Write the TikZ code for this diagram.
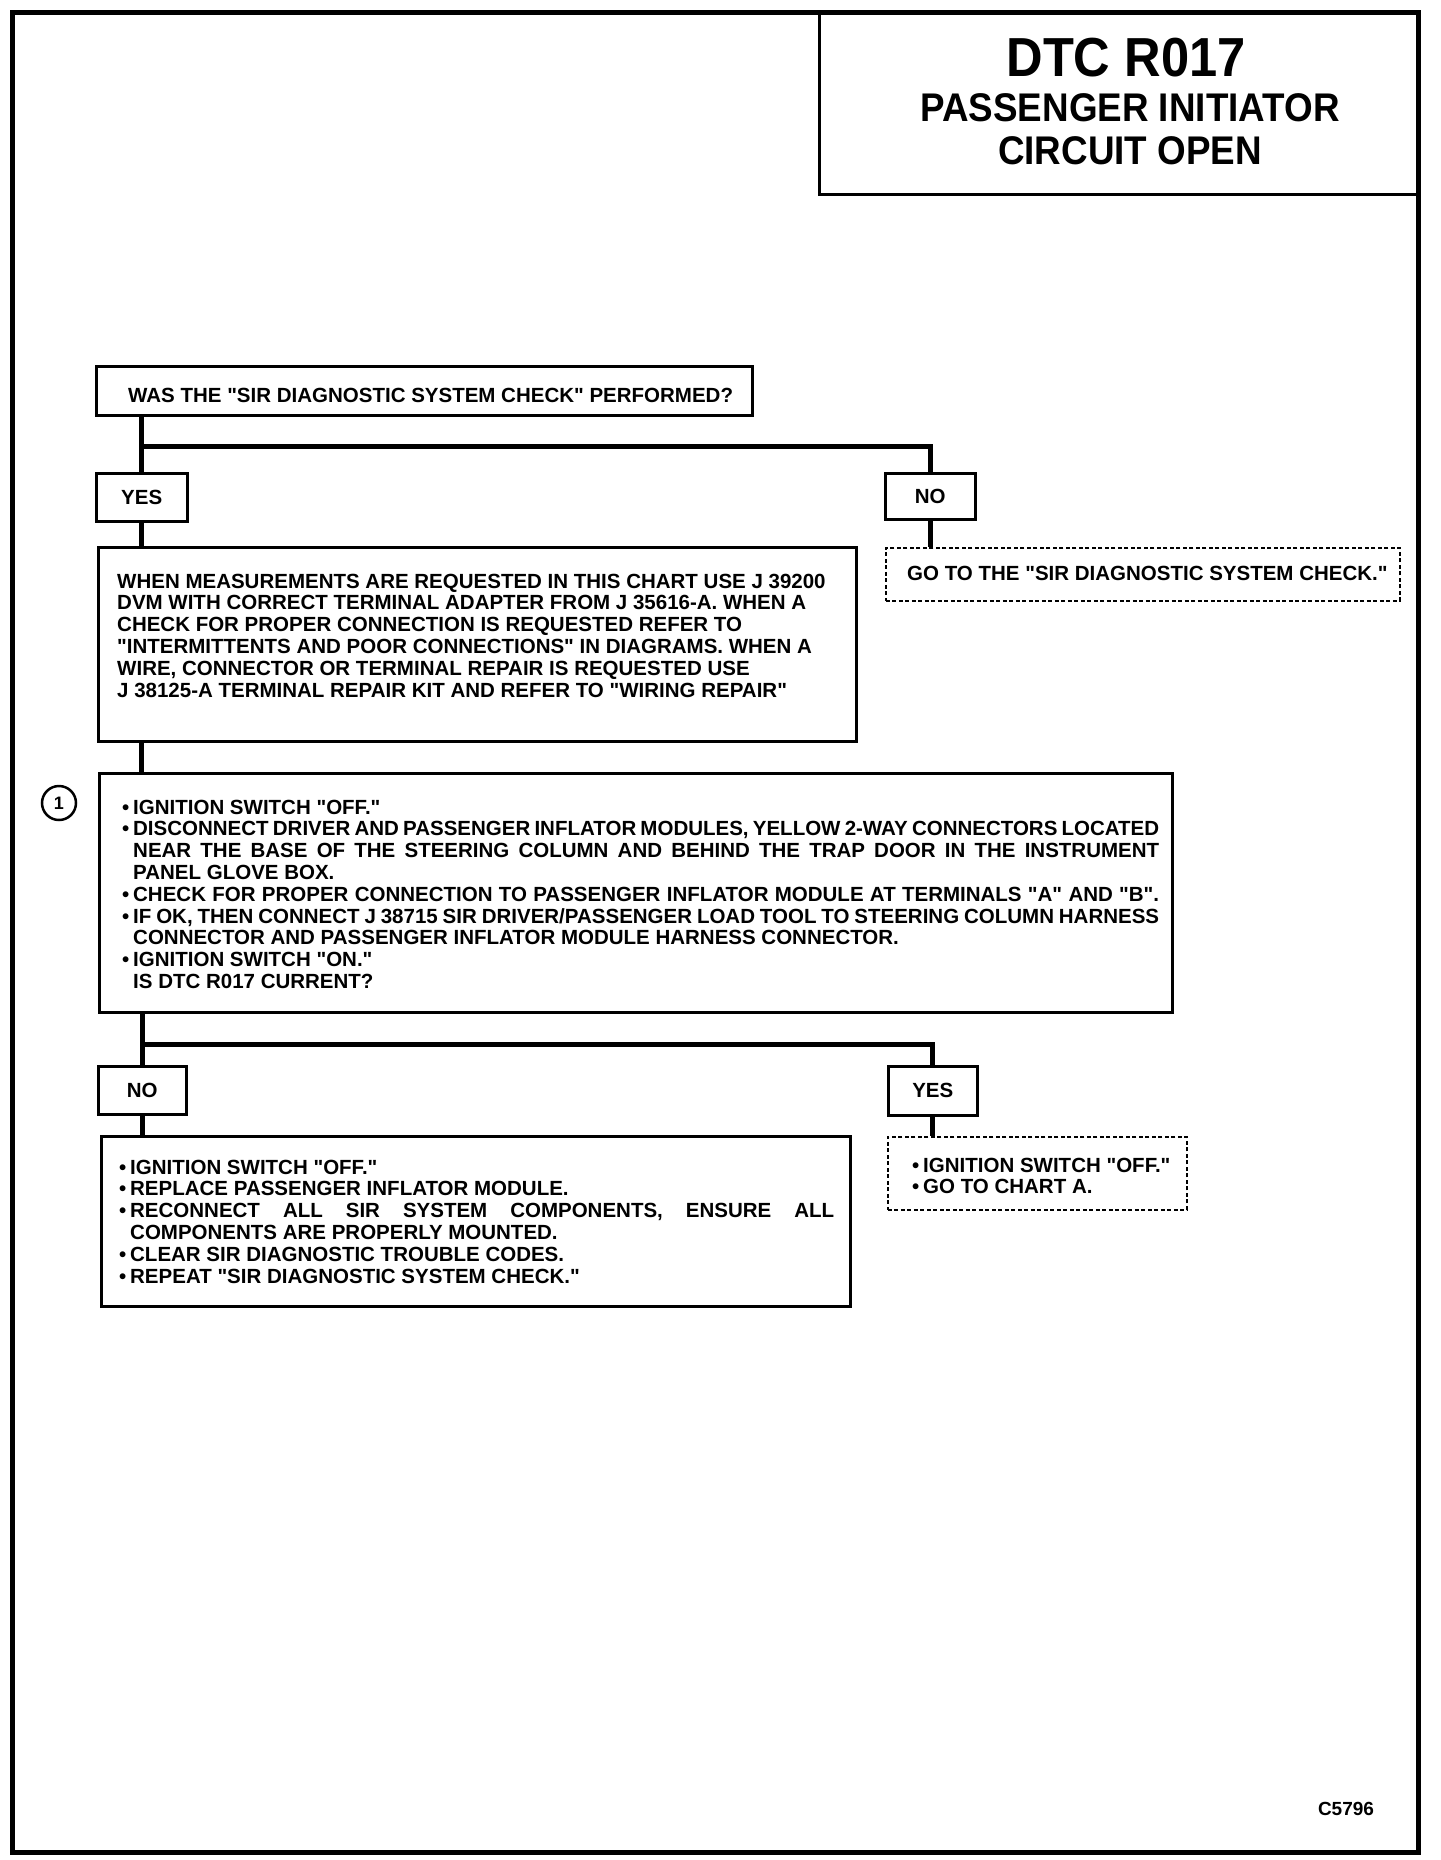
\documentclass[tikz,border=0pt]{standalone}
\usepackage{fontspec}
\setmainfont{Liberation Sans}[Ligatures=TeXOff]
\newfontfamily\titlefont[FakeStretch=0.92]{Liberation Sans}
\begin{document}
\begin{tikzpicture}[x=1pt,y=-1pt,
  box/.style={draw, line width=2.5pt, inner sep=0pt, anchor=north west},
  dbox/.style={draw, line width=1.6pt, dash pattern=on 4pt off 2.5pt, inner sep=0pt, anchor=north west},
  conn/.style={line width=5pt},
  txt/.style={inner sep=0pt, anchor=base west, font=\fontsize{20.5}{21.8}\bfseries\selectfont},
  lbl/.style={inner sep=0pt, font=\fontsize{20.5}{21.8}\bfseries\selectfont}]
\useasboundingbox (0,0) rectangle (1440,1860);
\newcommand{\bul}{\leavevmode\llap{\textbullet\hspace{4pt}}}
% outer frame and title box
\node[draw, line width=5pt, inner sep=0pt, anchor=north west, minimum width=1406pt, minimum height=1840pt] (frame) at (10,10) {};
\node[box, line width=3pt, minimum width=598pt, minimum height=183pt] (title) at (818,10) {};
\node[inner sep=0pt, anchor=base, font=\titlefont\fontsize{55}{55}\bfseries\selectfont] (t1) at (1126,77) {DTC R017};
\node[inner sep=0pt, anchor=base, font=\titlefont\fontsize{40}{40}\bfseries\selectfont] (t2) at (1130,121) {PASSENGER INITIATOR};
\node[inner sep=0pt, anchor=base, font=\titlefont\fontsize{40}{40}\bfseries\selectfont] (t3) at (1130,164) {CIRCUIT OPEN};
% question 1
\node[box, minimum width=656pt, minimum height=49pt] (q1) at (95,365) {};
\node[txt] (q1t) at (128,402) {WAS THE "SIR DIAGNOSTIC SYSTEM CHECK" PERFORMED?};
\node[box, minimum width=91pt, minimum height=48pt] (yes1) at (95,472) {};
\node[lbl] (yes1t) at (yes1.center) {YES};
\node[box, minimum width=90pt, minimum height=46pt] (no1) at (884,472) {};
\node[lbl] (no1t) at (no1.center) {NO};
\coordinate (br1) at (140.5,446);
\draw[conn] (yes1.north |- q1.south) -- (yes1.north);
\draw[conn] (br1) -| (no1.north);
% info box
\node[box, minimum width=758pt, minimum height=194pt] (b2) at (97,546) {};
\node[txt] (b2t) at (117,588) {\parbox[t]{760pt}{WHEN MEASUREMENTS ARE REQUESTED IN THIS CHART USE J 39200\\
DVM WITH CORRECT TERMINAL ADAPTER FROM J 35616-A. WHEN A\\
CHECK FOR PROPER CONNECTION IS REQUESTED REFER TO\\
"INTERMITTENTS AND POOR CONNECTIONS" IN DIAGRAMS. WHEN A\\
WIRE, CONNECTOR OR TERMINAL REPAIR IS REQUESTED USE\\
J 38125-A TERMINAL REPAIR KIT AND REFER TO "WIRING REPAIR"}};
\node[dbox, minimum width=514pt, minimum height=53pt] (go) at (885,547) {};
\node[txt] (got) at (907,580) {GO TO THE "SIR DIAGNOSTIC SYSTEM CHECK."};
\draw[conn] (yes1.south) -- (yes1.south |- b2.north);
\draw[conn] (no1.south) -- (no1.south |- go.north);
% step 1
\node[box, minimum width=1073pt, minimum height=239pt] (b3) at (98,772) {};
\node[circle, draw, line width=2.5pt, minimum size=34pt, inner sep=0pt, font=\fontsize{18}{18}\bfseries\selectfont] (c1) at (59,803) {1};
\node[txt] (b3t) at (133,814) {\parbox[t]{1040pt}{\bul IGNITION SWITCH "OFF."\\
\bul\makebox[1026pt][s]{DISCONNECT DRIVER AND PASSENGER INFLATOR MODULES, YELLOW 2-WAY CONNECTORS LOCATED}\\
\makebox[1026pt][s]{NEAR THE BASE OF THE STEERING COLUMN AND BEHIND THE TRAP DOOR IN THE INSTRUMENT}\\
PANEL GLOVE BOX.\\
\bul\makebox[1026pt][s]{CHECK FOR PROPER CONNECTION TO PASSENGER INFLATOR MODULE AT TERMINALS "A" AND "B".}\\
\bul\makebox[1026pt][s]{IF OK, THEN CONNECT J 38715 SIR DRIVER/PASSENGER LOAD TOOL TO STEERING COLUMN HARNESS}\\
CONNECTOR AND PASSENGER INFLATOR MODULE HARNESS CONNECTOR.\\
\bul IGNITION SWITCH "ON."\\
IS DTC R017 CURRENT?}};
\draw[conn] (yes1.south |- b2.south) -- (yes1.south |- b3.north);
% branch 2
\node[box, minimum width=88pt, minimum height=48pt] (no2) at (97,1065) {};
\node[lbl] (no2t) at (no2.center) {NO};
\node[box, minimum width=89pt, minimum height=49pt] (yes2) at (887,1065) {};
\node[lbl] (yes2t) at (yes2.center) {YES};
\coordinate (br2) at (141,1044);
\draw[conn] (no2.north |- b3.south) -- (no2.north);
\draw[conn] (br2) -| (yes2.north);
% results
\node[box, minimum width=749pt, minimum height=170pt] (fin) at (100,1135) {};
\node[txt] (fint) at (130,1174) {\parbox[t]{720pt}{\bul IGNITION SWITCH "OFF."\\
\bul REPLACE PASSENGER INFLATOR MODULE.\\
\bul\makebox[704pt][s]{RECONNECT ALL SIR SYSTEM COMPONENTS, ENSURE ALL}\\
COMPONENTS ARE PROPERLY MOUNTED.\\
\bul CLEAR SIR DIAGNOSTIC TROUBLE CODES.\\
\bul REPEAT "SIR DIAGNOSTIC SYSTEM CHECK."}};
\node[dbox, minimum width=299pt, minimum height=73pt] (yr) at (887,1136) {};
\node[txt] (yrt) at (923,1172) {\parbox[t]{260pt}{\bul IGNITION SWITCH "OFF."\\
\bul GO TO CHART A.}};
\draw[conn] (no2.south) -- (no2.south |- fin.north);
\draw[conn] (yes2.south) -- (yes2.south |- yr.north);
% code
\node[inner sep=0pt, font=\fontsize{19}{19}\bfseries\selectfont] (code) at (1346,1809) {C5796};
\end{tikzpicture}
\end{document}
